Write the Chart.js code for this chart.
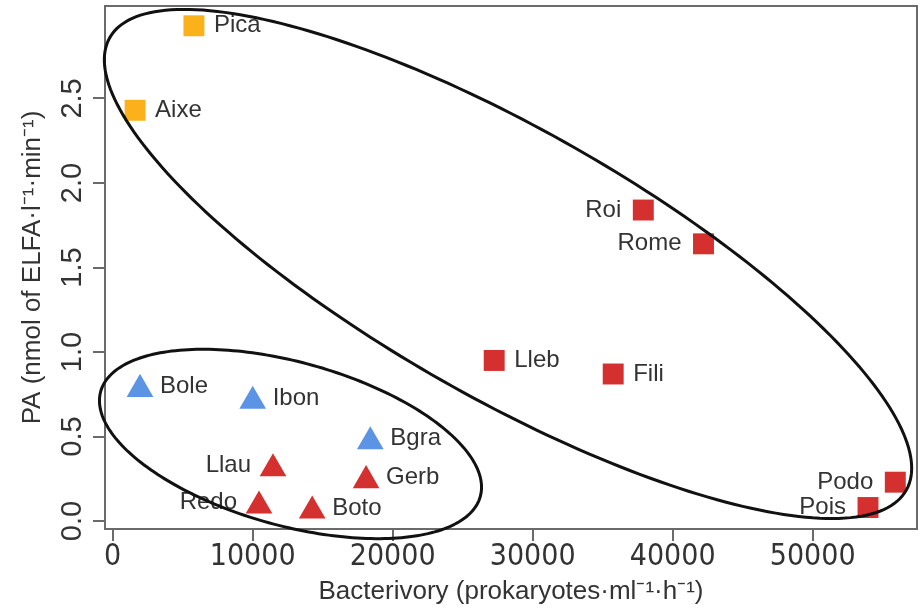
<!DOCTYPE html>
<html>
<head>
<meta charset="utf-8">
<script src="https://cdn.jsdelivr.net/npm/chart.js@4"></script>
<style>
  html, body { margin: 0; padding: 0; background: #fff; }
</style>
</head>
<body>
<canvas id="paChart" width="920" height="610"></canvas>
<script>
// lakes, grouped the way the figure colours them
var yellowNames = ['Pica', 'Aixe'];
var yellowX = [5800, 1600];
var yellowY = [2.93, 2.43];

var redSqNames = ['Roi', 'Rome', 'Lleb', 'Fili', 'Podo', 'Pois'];
var redSqX = [37900, 42200, 27250, 35750, 55900, 53950];
var redSqY = [1.84, 1.64, 0.95, 0.87, 0.23, 0.08];

var blueNames = ['Bole', 'Ibon', 'Bgra'];
var blueX = [1950, 10000, 18400];
var blueY = [0.78, 0.71, 0.47];

var redTriNames = ['Llau', 'Gerb', 'Redo', 'Boto'];
var redTriX = [11450, 18100, 10450, 14250];
var redTriY = [0.31, 0.24, 0.09, 0.06];

// names written on the left of their mark
var leftLabels = ['Roi', 'Rome', 'Podo', 'Pois', 'Llau', 'Redo'];

var xTicks = [0, 10000, 20000, 30000, 40000, 50000];
var yTicks = [0, 0.5, 1.0, 1.5, 2.0, 2.5];

// group ellipses in data units: centre and two semi-axis vectors
var groupEllipses = [
  { cx: 28236, cy: 1.521, ax: 28443, ay: -1.339, bx: -4729, by: -0.689 },
  { cx: 12700, cy: 0.456, ax: 13557, ay: -0.311, bx: -1553, by: -0.466 }
];

function pts(xs, ys) {
  return xs.map(function (v, i) { return { x: v, y: ys[i] }; });
}

var axisGrey = '#6a6a6a';
var textGrey = '#333333';
var tickFont = { family: "'Liberation Sans Narrow', 'DejaVu Sans Condensed', 'Liberation Sans', Arial", size: 30, lineHeight: 1 };

// keep the plot box where the figure has it
function noPad(axis) {
  axis.paddingTop = 0;
  axis.paddingBottom = 0;
  axis.paddingLeft = 0;
  axis.paddingRight = 0;
}

var boxPlugin = {
  id: 'box',
  beforeDatasetsDraw: function (chart) {
    var a = chart.chartArea, ctx = chart.ctx;
    ctx.save();
    ctx.strokeStyle = axisGrey;
    ctx.lineWidth = 2;
    ctx.strokeRect(a.left, a.top, a.right - a.left, a.bottom - a.top);
    ctx.restore();
  }
};

var labelPlugin = {
  id: 'pointNames',
  afterDatasetsDraw: function (chart) {
    var ctx = chart.ctx;
    ctx.save();
    ctx.font = "24px 'Liberation Sans', Arial, sans-serif";
    ctx.fillStyle = textGrey;
    ctx.textBaseline = 'middle';
    chart.data.datasets.forEach(function (ds, di) {
      var meta = chart.getDatasetMeta(di);
      var dy = ds.pointStyle === 'triangle' ? -3 : 0;
      meta.data.forEach(function (el, i) {
        var name = ds.names[i];
        if (leftLabels.indexOf(name) >= 0) {
          ctx.textAlign = 'right';
          ctx.fillText(name, el.x - 22, el.y + dy);
        } else {
          ctx.textAlign = 'left';
          ctx.fillText(name, el.x + 20, el.y + dy);
        }
      });
    });
    ctx.restore();
  }
};

var ellipsePlugin = {
  id: 'groups',
  afterDatasetsDraw: function (chart) {
    var ctx = chart.ctx, sx = chart.scales.x, sy = chart.scales.y;
    ctx.save();
    ctx.strokeStyle = '#111111';
    ctx.lineWidth = 3;
    groupEllipses.forEach(function (e) {
      ctx.beginPath();
      for (var i = 0; i <= 240; i++) {
        var t = i / 240 * Math.PI * 2;
        var vx = e.cx + Math.cos(t) * e.ax + Math.sin(t) * e.bx;
        var vy = e.cy + Math.cos(t) * e.ay + Math.sin(t) * e.by;
        var px = sx.getPixelForValue(vx), py = sy.getPixelForValue(vy);
        if (i === 0) ctx.moveTo(px, py); else ctx.lineTo(px, py);
      }
      ctx.closePath();
      ctx.stroke();
    });
    ctx.restore();
  }
};

function marks(names, xs, ys, colour, style, r) {
  return {
    names: names,
    data: pts(xs, ys),
    pointStyle: style,
    pointRadius: r,
    pointHoverRadius: r,
    backgroundColor: colour,
    borderColor: colour,
    borderWidth: 0,
    showLine: false
  };
}

new Chart(document.getElementById('paChart').getContext('2d'), {
  type: 'scatter',
  data: {
    datasets: [
      marks(yellowNames, yellowX, yellowY, '#fbb11a', 'rect', 14.8),
      marks(redSqNames, redSqX, redSqY, '#d3302f', 'rect', 14.8),
      marks(blueNames, blueX, blueY, '#5b93e5', 'triangle', 15.4),
      marks(redTriNames, redTriX, redTriY, '#d3302f', 'triangle', 15.4)
    ]
  },
  options: {
    responsive: false,
    animation: false,
    layout: { autoPadding: false, padding: { top: 6, right: 3, left: 0, bottom: 0 } },
    plugins: { legend: { display: false }, tooltip: { enabled: false } },
    scales: {
      x: {
        type: 'linear',
        min: -550,
        max: 57450,
        afterBuildTicks: function (axis) { axis.ticks = xTicks.map(function (v) { return { value: v }; }); },
        afterFit: function (axis) { axis.height = 81; noPad(axis); },
        grid: { drawOnChartArea: false, drawTicks: true, tickLength: 12, color: axisGrey, lineWidth: 2 },
        border: { display: true, color: axisGrey, width: 2 },
        ticks: {
          font: tickFont,
          color: textGrey,
          padding: 1,
          maxRotation: 0,
          autoSkip: false,
          callback: function (v) { return String(v); }
        },
        title: {
          display: true,
          text: 'Bacterivory (prokaryotes\u00b7ml\u207b\u00b9\u00b7h\u207b\u00b9)',
          font: { family: "'Liberation Sans', Arial", size: 26 },
          color: textGrey,
          padding: { top: 0, bottom: 3 }
        }
      },
      y: {
        type: 'linear',
        min: -0.047,
        max: 3.047,
        afterBuildTicks: function (axis) { axis.ticks = yTicks.map(function (v) { return { value: v }; }); },
        afterFit: function (axis) { axis.width = 105; noPad(axis); },
        grid: { drawOnChartArea: false, drawTicks: true, tickLength: 12, color: axisGrey, lineWidth: 2 },
        border: { display: true, color: axisGrey, width: 2 },
        ticks: {
          font: { family: "'Liberation Sans', Arial", size: 29 },
          color: textGrey,
          padding: 0,
          minRotation: 90,
          maxRotation: 90,
          crossAlign: 'center',
          autoSkip: false,
          callback: function (v) { return v.toFixed(1); }
        },
        title: {
          display: true,
          text: 'PA (nmol of ELFA\u00b7l\u207b\u00b9\u00b7min\u207b\u00b9)',
          font: { family: "'Liberation Sans', Arial", size: 26 },
          color: textGrey,
          padding: { top: 17, bottom: 0 }
        }
      }
    }
  },
  plugins: [boxPlugin, labelPlugin, ellipsePlugin]
});
</script>
</body>
</html>
